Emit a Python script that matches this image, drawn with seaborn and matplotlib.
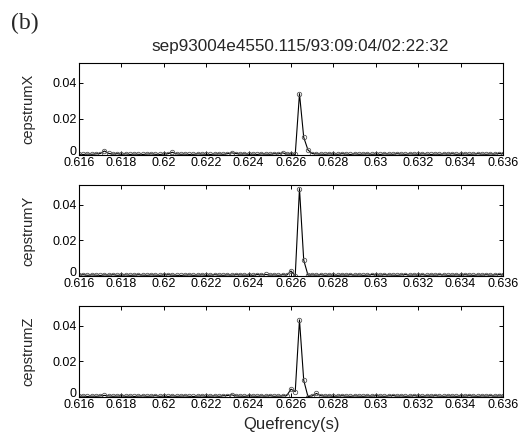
import numpy as np
import pandas as pd
import matplotlib
matplotlib.use("Agg")
import matplotlib.pyplot as plt
import seaborn as sns

# ---- data ----
quefrency = np.round(np.arange(101) * 0.0002 + 0.616, 4)

cepstrum_x = [
    0.0004, 0.0003, 0.0005, 0.0004, 0.0006, 0.0008, 0.0022, 0.0009, 0.0005, 0.0007,
    0.0004, 0.0006, 0.0003, 0.0005, 0.0004, 0.0003, 0.0005, 0.0006, 0.0004, 0.0003,
    0.0005, 0.0007, 0.0015, 0.0006, 0.0004, 0.0005, 0.0003, 0.0004, 0.0006, 0.0005,
    0.0004, 0.0003, 0.0005, 0.0006, 0.0004, 0.0007, 0.0012, 0.0008, 0.0005, 0.0006,
    0.0004, 0.0005, 0.0003, 0.0006, 0.0005, 0.0004, 0.0007, 0.0006, 0.0012, 0.0005,
    0.0006, 0.0003, 0.0340, 0.0098, 0.0028, 0.0008, 0.0006, 0.0005, 0.0004, 0.0006,
    0.0005, 0.0004, 0.0007, 0.0005, 0.0003, 0.0006, 0.0004, 0.0005, 0.0006, 0.0004,
    0.0005, 0.0003, 0.0006, 0.0005, 0.0004, 0.0007, 0.0005, 0.0004, 0.0006, 0.0005,
    0.0004, 0.0006, 0.0005, 0.0003, 0.0005, 0.0004, 0.0006, 0.0005, 0.0007, 0.0004,
    0.0005, 0.0006, 0.0004, 0.0005, 0.0007, 0.0005, 0.0004, 0.0006, 0.0005, 0.0008,
    0.0007,
]

cepstrum_y = [
    0.0005, 0.0007, 0.0004, 0.0006, 0.0005, 0.0003, 0.0006, 0.0005, 0.0007, 0.0004,
    0.0005, 0.0006, 0.0004, 0.0005, 0.0007, 0.0005, 0.0004, 0.0006, 0.0005, 0.0004,
    0.0006, 0.0007, 0.0005, 0.0004, 0.0003, 0.0005, 0.0006, 0.0004, 0.0005, 0.0006,
    0.0004, 0.0005, 0.0007, 0.0005, 0.0004, 0.0006, 0.0005, 0.0007, 0.0006, 0.0005,
    0.0006, 0.0004, 0.0008, 0.0006, 0.0009, 0.0005, 0.0006, 0.0004, 0.0007, 0.0005,
    0.0028, 0.0002, 0.0490, 0.0089, 0.0005, 0.0006, 0.0005, 0.0007, 0.0004, 0.0006,
    0.0005, 0.0004, 0.0006, 0.0005, 0.0007, 0.0005, 0.0006, 0.0004, 0.0005, 0.0008,
    0.0006, 0.0005, 0.0007, 0.0006, 0.0005, 0.0004, 0.0006, 0.0008, 0.0005, 0.0006,
    0.0005, 0.0007, 0.0004, 0.0006, 0.0005, 0.0007, 0.0006, 0.0004, 0.0005, 0.0006,
    0.0005, 0.0007, 0.0005, 0.0004, 0.0006, 0.0005, 0.0007, 0.0005, 0.0006, 0.0008,
    0.0006,
]

cepstrum_z = [
    0.0004, 0.0005, 0.0003, 0.0005, 0.0004, 0.0006, 0.0009, 0.0006, 0.0004, 0.0005,
    0.0006, 0.0004, 0.0005, 0.0003, 0.0005, 0.0006, 0.0004, 0.0005, 0.0007, 0.0004,
    0.0005, 0.0003, 0.0006, 0.0004, 0.0005, 0.0006, 0.0004, 0.0003, 0.0005, 0.0006,
    0.0004, 0.0005, 0.0006, 0.0004, 0.0007, 0.0008, 0.0012, 0.0006, 0.0005, 0.0004,
    0.0006, 0.0005, 0.0004, 0.0006, 0.0005, 0.0007, 0.0004, 0.0005, 0.0006, 0.0008,
    0.0044, 0.0030, 0.0432, 0.0094, 0.0002, 0.0006, 0.0020, 0.0007, 0.0005, 0.0006,
    0.0004, 0.0005, 0.0007, 0.0005, 0.0004, 0.0006, 0.0005, 0.0004, 0.0006, 0.0005,
    0.0007, 0.0005, 0.0004, 0.0006, 0.0008, 0.0005, 0.0006, 0.0004, 0.0005, 0.0007,
    0.0005, 0.0004, 0.0006, 0.0005, 0.0007, 0.0005, 0.0004, 0.0006, 0.0005, 0.0004,
    0.0006, 0.0005, 0.0007, 0.0005, 0.0004, 0.0006, 0.0005, 0.0007, 0.0005, 0.0006,
    0.0005,
]

series_names = ["cepstrumX", "cepstrumY", "cepstrumZ"]
x_ticks = [0.616, 0.618, 0.620, 0.622, 0.624, 0.626, 0.628, 0.630, 0.632, 0.634, 0.636]
x_tick_labels = ["0.616", "0.618", "0.62", "0.622", "0.624", "0.626",
                 "0.628", "0.63", "0.632", "0.634", "0.636"]
y_ticks = [0.0, 0.02, 0.04]
y_tick_labels = ["0", "0.02", "0.04"]
title_text = "sep93004e4550.115/93:09:04/02:22:32"
panel_tag = "(b)"
x_label = "Quefrency(s)"

# ---- plot ----
sns.set_theme(style="ticks")
plt.rcParams["font.family"] = ["Liberation Sans", "DejaVu Sans"]

fig = plt.figure(figsize=(5.25, 4.41), dpi=100)
fig.patch.set_facecolor("white")

left, width = 79 / 525, 424 / 525
panel_rows = [(63, 155), (185, 276), (306, 397)]

for (top_px, bot_px), name, values in zip(panel_rows, series_names,
                                          [cepstrum_x, cepstrum_y, cepstrum_z]):
    ax = fig.add_axes([left, 1 - bot_px / 441, width, (bot_px - top_px) / 441])
    df = pd.DataFrame({"q": quefrency, "c": values})
    sns.lineplot(data=df, x="q", y="c", ax=ax, color="black", linewidth=0.8,
                 marker="o", markersize=3.2, markerfacecolor="none",
                 markeredgecolor="#555555", markeredgewidth=0.6)
    ax.set_xlim(0.616, 0.636)
    ax.set_ylim(0.0, 0.051)
    ax.set_xticks(x_ticks)
    ax.set_xticklabels(x_tick_labels)
    ax.set_yticks(y_ticks)
    ax.set_yticklabels(y_tick_labels)
    ax.tick_params(direction="in", length=3, width=0.7, top=True, right=True,
                   labelsize=9, pad=1.5, colors="black")
    ylabs = ax.get_yticklabels()
    ylabs[0].set_va("baseline")
    for sp in ax.spines.values():
        sp.set_visible(True)
        sp.set_linewidth(0.8)
        sp.set_color("black")
    ax.set_ylabel(name, fontsize=10.5, labelpad=12)
    ax.set_xlabel("")
    ax.set_facecolor("white")

ax.set_xlabel(x_label, fontsize=12, labelpad=4)

fig.text(300 / 525, 1 - 46 / 441, title_text, ha="center", va="center", fontsize=12.3)
fig.text(11 / 525, 1 - 23 / 441, panel_tag, ha="left", va="center", fontsize=17,
         family=["Liberation Serif", "DejaVu Serif"])

fig.savefig("out.png", dpi=100, facecolor="white")
